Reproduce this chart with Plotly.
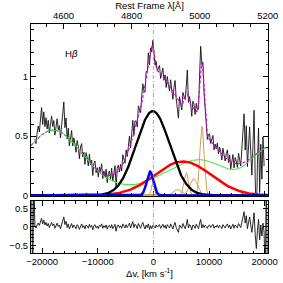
import numpy as np
import plotly.graph_objects as go

# ---------------- data ----------------
C_KMS = 299792.458
LAMBDA0 = 4861.33          # H-beta rest wavelength [A]

V_START = -21900           # first velocity bin [km/s]
V_STEP = 200               # bin width [km/s]

# residuals (data - model), one per velocity bin
resid = [
    1.5, -1.5, 1.5, 0.02, -0.03, 0.05, 0.10, 0.04, 0.15, 0.23,
    0.08, 0.18, 0.05, 0.12, 0.02, 0.09, -0.02, 0.07, 0.12, 0.03,
    0.08, -0.04, 0.06, 0.10, 0.01, 0.05, -0.05, 0.04, 0.13, 0.27,
    0.06, 0.15, -0.02, 0.08, -0.06, 0.04, 0.09, -0.03, 0.05, 0.01,
    -0.05, 0.06, 0.02, -0.07, 0.04, 0.08, -0.02, 0.03, -0.06, 0.05,
    0.02, -0.04, 0.07, -0.01, 0.04, -0.08, 0.03, 0.06, -0.03, 0.02,
    -0.05, 0.04, 0.01, 0.08, -0.04, 0.03, -0.02, 0.05, -0.06, 0.02,
    0.04, -0.03, 0.06, -0.05, 0.01, 0.07, -0.12, 0.03, 0.05, -0.02,
    0.03, -0.04, 0.08, 0.01, -0.03, 0.06, -0.02, 0.04, 0.10, -0.03,
    0.05, 0.14, -0.02, 0.07, 0.03, -0.05, 0.09, 0.02, -0.04, 0.06,
    0.12, 0.01, -0.06, 0.05, -0.02, 0.08, -0.07, 0.03, -0.05, 0.04,
    0.02, -0.03, 0.05, -0.01, 0.03, 0.06, -0.04, 0.02, 0.07, -0.02,
    0.04, -0.05, 0.06, 0.01, -0.03, 0.08, 0.02, -0.06, 0.05, 0.12,
    -0.02, -0.12, -0.15, 0.05, 0.01, -0.04, 0.09, 0.02, -0.05, 0.04,
    0.20, -0.03, 0.06, 0.02, -0.08, 0.05, 0.03, -0.04, 0.07, 0.01,
    -0.05, 0.10, 0.20, -0.03, 0.06, -0.02, 0.04, 0.01, -0.04, 0.03,
    0.05, -0.02, 0.03, 0.07, -0.04, 0.02, -0.01, 0.05, -0.03, 0.04,
    0.01, -0.05, 0.06, 0.02, -0.03, 0.04, 0.08, -0.02, 0.05, -0.06,
    0.03, 0.07, -0.04, 0.05, 0.02, -0.03, 0.09, 0.04, -0.02, 0.12,
    0.25, 0.41, 0.10, 0.30, -0.05, 0.15, 0.27, 0.05, -0.15, 0.10,
    0.38, -0.20, -0.59, -0.10, 0.20, -0.35, 0.05, -0.25, 0.10, -0.15,
    -1.5, 1.5, -1.5,
]
N_EDGE = 3   # bins at each end flagged as bad (only shown in residual panel)

# fit components: [center km/s, sigma km/s, amplitude]
black_gauss = [-100, 3000, 0.71]          # broad H-beta
blue_gauss = [-600, 600, 0.20]            # narrow-ish H-beta
red_gauss = [5300, 5000, 0.286]           # very broad / red wing
green_level = 0.07                        # Fe II pseudo-continuum level
green_gauss = [[-18000, 5000, 0.48], [8300, 4500, 0.23],
               [21000, 3500, 0.33], [1500, 2500, 0.04]]
gold_gauss = [[-100, 250, 0.11], [4300, 700, 0.05], [5900, 400, 0.19],
              [7230, 700, 0.14], [8730, 380, 0.58]]   # narrow lines / [OIII]

V_RANGE = [-22000, 20600]
LAM_TICKS = [4600, 4800, 5000, 5200]
V_TICKS = [-20000, -10000, 0, 10000, 20000]


def gauss(v, p):
    c, s, a = p
    return a * np.exp(-0.5 * ((v - c) / s) ** 2)


def green(v):
    out = np.full_like(v, green_level, dtype=float)
    for p in green_gauss:
        out = out + gauss(v, p)
    return out


def model(v):
    tot = gauss(v, black_gauss) + gauss(v, blue_gauss) + gauss(v, red_gauss) + green(v)
    for p in gold_gauss:
        tot = tot + gauss(v, p)
    return tot


resid = np.array(resid)
v_data = V_START + V_STEP * np.arange(len(resid))
flux = model(v_data) + resid
v_fine = np.linspace(V_RANGE[0], V_RANGE[1], 1705)

FONT = "Liberation Sans"
fig = go.Figure()

# spectrum
fig.add_trace(go.Scatter(x=v_data[N_EDGE:-N_EDGE], y=flux[N_EDGE:-N_EDGE], mode="lines",
                         line=dict(color="#111111", width=0.9), xaxis="x", yaxis="y"))
# total model
fig.add_trace(go.Scatter(x=v_fine, y=model(v_fine), mode="lines",
                         line=dict(color="#e000e0", width=1.2, dash="3px,2px"), xaxis="x", yaxis="y"))
# Fe II
fig.add_trace(go.Scatter(x=v_fine, y=green(v_fine), mode="lines",
                         line=dict(color="#2fea2f", width=1), xaxis="x", yaxis="y"))
for p in gold_gauss:
    fig.add_trace(go.Scatter(x=v_fine, y=gauss(v_fine, p), mode="lines",
                             line=dict(color="#c9a252", width=1), xaxis="x", yaxis="y"))
fig.add_trace(go.Scatter(x=v_fine, y=gauss(v_fine, red_gauss), mode="lines",
                         line=dict(color="#ff0000", width=2.5), xaxis="x", yaxis="y"))
fig.add_trace(go.Scatter(x=v_fine, y=gauss(v_fine, black_gauss), mode="lines",
                         line=dict(color="black", width=2.3), xaxis="x", yaxis="y"))
fig.add_trace(go.Scatter(x=v_fine, y=gauss(v_fine, blue_gauss), mode="lines",
                         line=dict(color="#0000ff", width=2.5), xaxis="x", yaxis="y"))

# residual panel
fig.add_trace(go.Scatter(x=v_data, y=resid, mode="lines",
                         line=dict(color="#111111", width=0.9), xaxis="x3", yaxis="y3"))

# invisible trace to carry the top wavelength axis
lam_lo = LAMBDA0 * (1 + V_RANGE[0] / C_KMS)
fig.add_trace(go.Scatter(x=[lam_lo, 5200.5], y=[0, 0], mode="markers",
                         marker=dict(opacity=0), xaxis="x2", yaxis="y", hoverinfo="skip"))

# v = 0 dash-dot lines
for xref, yref, y0, y1 in [("x", "y", -0.005, 1.443), ("x3", "y3", -0.71, 0.70)]:
    fig.add_shape(type="line", xref=xref, yref=yref,
                  x0=0, x1=0, y0=y0, y1=y1,
                  line=dict(color="#8a8a8a", width=0.8, dash="4px,2px,1px,2px"))

tick_common = dict(ticks="inside", ticklen=5, tickcolor="black", showline=True,
                   linecolor="black", linewidth=1, showgrid=False, zeroline=False,
                   automargin=False,
                   tickfont=dict(family=FONT, size=9.5, color="black"))
minor_x = dict(dtick=2000, ticklen=2.5, ticks="inside", tickcolor="black")

fig.update_layout(
    width=283, height=283,
    margin=dict(l=31, r=15, t=24, b=30, autoexpand=False),
    paper_bgcolor="white", plot_bgcolor="white",
    showlegend=False,
    hovermode=False,
    font=dict(family=FONT, size=9.5, color="black"),
    xaxis=dict(domain=[0, 1], anchor="y", range=V_RANGE, tickvals=V_TICKS,
               showticklabels=False, mirror=False, minor=minor_x, **tick_common),
    xaxis2=dict(overlaying="x", side="top", anchor="y",
                range=[lam_lo, 5200.5], tickvals=LAM_TICKS, tickformat="d",
                minor=dict(dtick=50, tick0=4600, ticklen=2.5, ticks="inside", tickcolor="black"),
                title=dict(text="Rest Frame λ[Å]", standoff=1,
                           font=dict(family=FONT, size=9.5)),
                **tick_common),
    yaxis=dict(domain=[0.249, 1], anchor="x", range=[-0.005, 1.443],
               tickvals=[0, 0.5, 1], ticktext=["0", "0.5", "1"], mirror="ticks",
               minor=dict(dtick=0.1, ticklen=2.5, ticks="inside", tickcolor="black"),
               **tick_common),
    xaxis3=dict(domain=[0, 1], anchor="y3", range=V_RANGE, tickvals=V_TICKS,
                tickformat="d", mirror="ticks", minor=minor_x,
                title=dict(text="Δv, [km s<sup>-1</sup>]", standoff=3,
                           font=dict(family=FONT, size=9.5)),
                **tick_common),
    yaxis3=dict(domain=[0, 0.227], anchor="x3", range=[-0.71, 0.70],
                tickvals=[-0.5, 0, 0.5], ticktext=["−0.5", "0", "0.5"], mirror="ticks",
                minor=dict(dtick=0.1, ticklen=2.5, ticks="inside", tickcolor="black"),
                **tick_common),
    annotations=[dict(text="H<i>β</i>", xref="paper", yref="paper", x=0.135, y=0.905,
                      showarrow=False, font=dict(family=FONT, size=9.5, color="black"))],
)

fig.write_html("out.html", config={"displayModeBar": False, "staticPlot": True},
               post_script="document.body.style.margin='0';document.body.style.padding='0';")
